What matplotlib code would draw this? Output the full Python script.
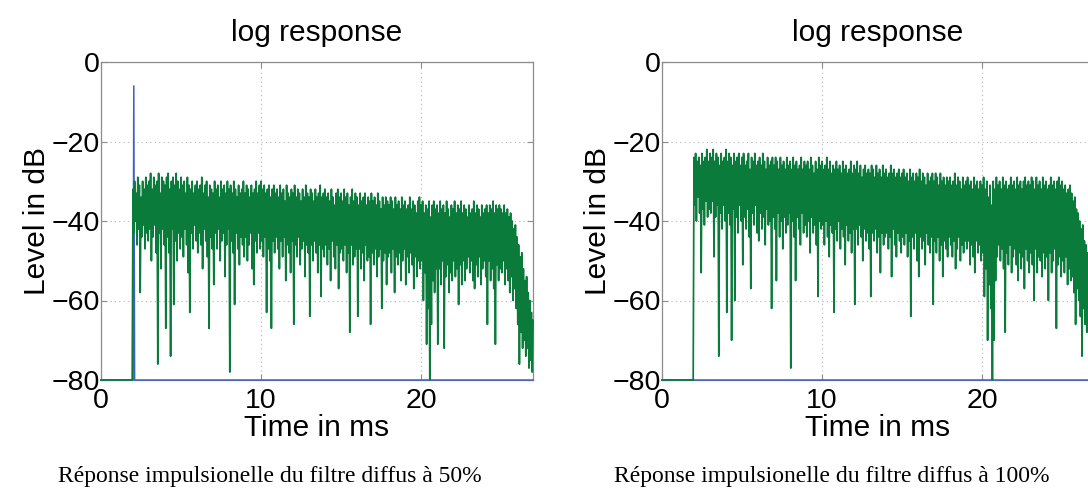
import numpy as np
import matplotlib
matplotlib.use("Agg")
import matplotlib.pyplot as plt

# The reverb tail is dense, so it is read off the picture as an upper and a
# lower level for every 0.1 ms step; the trace runs hi, lo, hi, lo ...
# every 0.05 ms, starting at 1.9 ms.
onset_ms = 1.9
step_ms = 0.05

# direct path (blue): floor at -80 dB with one spike at ~2 ms
direct_t_50 = [0.0, 2.0, 2.05, 2.1, 27.0]
direct_db_50 = [-80, -80, -6, -80, -80]
direct_t_100 = [0.0, 27.0]
direct_db_100 = [-80, -80]

# diffuse part (green), 50 % filter, upper levels at 1.9, 2.0, ... 27.0 ms
diffuse_hi_50 = [-80,
    -32, -30, -33, -29, -31, -34, -30, -32, -29, -31,
    -30, -28, -32, -29, -31, -30, -28, -33, -29, -30,
    -31, -29, -28, -32, -30, -29, -31, -28, -30, -32,
    -29, -31, -30, -33, -29, -31, -32, -30, -33, -31,
    -30, -32, -31, -29, -33, -31, -30, -34, -31, -32,
    -33, -30, -32, -31, -34, -30, -32, -31, -33, -30,
    -32, -31, -33, -30, -32, -34, -31, -33, -32, -30,
    -33, -31, -32, -34, -31, -33, -32, -30, -33, -31,
    -30, -32, -31, -33, -32, -31, -34, -32, -31, -33,
    -32, -34, -31, -33, -32, -35, -31, -33, -34, -32,
    -33, -31, -34, -32, -33, -35, -32, -34, -31, -33,
    -34, -32, -33, -35, -32, -34, -33, -31, -34, -33,
    -32, -34, -33, -35, -32, -34, -36, -33, -32, -34,
    -33, -35, -32, -34, -33, -36, -34, -32, -35, -33,
    -34, -36, -33, -35, -34, -33, -36, -34, -35, -33,
    -35, -34, -36, -33, -35, -37, -34, -36, -34, -35,
    -36, -34, -35, -37, -34, -36, -35, -37, -34, -36,
    -35, -37, -36, -34, -37, -35, -36, -38, -35, -34,
    -36, -35, -38, -36, -37, -35, -39, -36, -35, -37,
    -36, -38, -35, -37, -36, -38, -35, -37, -39, -36,
    -37, -35, -38, -36, -37, -35, -38, -36, -37, -39,
    -36, -38, -37, -35, -38, -36, -37, -39, -36, -38,
    -37, -36, -38, -36, -37, -35, -38, -36, -37, -36,
    -37, -38, -36, -38, -37, -39, -38, -40, -42, -41,
    -44, -46, -49, -48, -52, -55, -54, -58, -60, -63,
    -65]
# 50 % filter, lower levels at 1.95, 2.05, ... 26.95 ms
diffuse_lo_50 = [-80,
    -43, -40, -46, -42, -58, -44, -41, -47, -43, -45,
    -42, -50, -44, -41, -48, -76, -43, -52, -42, -46,
    -67, -44, -48, -74, -42, -61, -45, -50, -43, -47,
    -44, -49, -42, -46, -53, -63, -43, -47, -41, -45,
    -48, -43, -46, -52, -42, -45, -49, -67, -44, -47,
    -56, -43, -47, -42, -50, -45, -43, -54, -46, -42,
    -78, -45, -48, -61, -43, -47, -51, -44, -46, -49,
    -44, -50, -46, -43, -52, -56, -45, -48, -43, -47,
    -45, -49, -44, -63, -47, -50, -67, -45, -48, -44,
    -47, -52, -45, -49, -44, -55, -46, -48, -53, -45,
    -66, -46, -49, -44, -51, -47, -45, -54, -46, -48,
    -64, -46, -50, -45, -48, -53, -46, -59, -47, -49,
    -46, -51, -47, -55, -45, -49, -52, -46, -57, -48,
    -47, -50, -46, -53, -48, -68, -46, -51, -49, -47,
    -64, -47, -52, -48, -55, -46, -50, -49, -66, -48,
    -51, -47, -54, -49, -47, -62, -50, -48, -56, -49,
    -48, -53, -47, -58, -49, -51, -48, -55, -50, -47,
    -56, -49, -53, -48, -51, -57, -49, -54, -50, -52,
    -50, -60, -53, -71, -62, -80, -66, -55, -58, -52,
    -71, -52, -56, -50, -72, -54, -51, -58, -53, -55,
    -50, -54, -52, -61, -51, -56, -50, -55, -52, -49,
    -53, -50, -55, -57, -51, -54, -49, -56, -52, -50,
    -54, -66, -50, -55, -52, -57, -71, -51, -55, -52,
    -53, -50, -56, -52, -55, -58, -54, -60, -57, -62,
    -66, -76, -68, -72, -70, -74, -72, -77, -75, -78]

# diffuse part (green), 100 % filter, upper levels at 1.9, 2.0, ... 27.0 ms
diffuse_hi_100 = [-80,
    -24, -23, -25, -24, -26, -23, -25, -24, -22, -25,
    -23, -24, -22, -25, -23, -24, -26, -23, -25, -24,
    -22, -25, -23, -24, -26, -23, -25, -24, -23, -26,
    -24, -23, -26, -25, -23, -27, -24, -25, -23, -26,
    -25, -24, -26, -23, -25, -27, -24, -26, -25, -24,
    -26, -24, -25, -27, -24, -26, -25, -27, -24, -26,
    -25, -27, -24, -26, -25, -27, -26, -24, -27, -25,
    -26, -25, -27, -24, -26, -28, -25, -27, -24, -26,
    -25, -27, -26, -24, -27, -25, -28, -26, -27, -25,
    -27, -26, -28, -25, -27, -26, -28, -27, -25, -28,
    -26, -27, -25, -28, -26, -29, -27, -26, -28, -27,
    -28, -26, -27, -29, -26, -28, -27, -29, -26, -28,
    -27, -29, -28, -26, -28, -27, -29, -28, -27, -29,
    -28, -27, -29, -28, -30, -27, -29, -28, -30, -28,
    -29, -27, -30, -28, -29, -31, -28, -30, -29, -28,
    -30, -28, -29, -31, -28, -30, -29, -31, -29, -30,
    -29, -31, -30, -28, -31, -29, -30, -32, -29, -31,
    -30, -29, -31, -30, -32, -29, -31, -30, -32, -30,
    -31, -29, -32, -30, -34, -31, -36, -30, -32, -29,
    -31, -30, -32, -29, -31, -30, -32, -31, -29, -31,
    -30, -32, -29, -31, -30, -32, -30, -29, -31, -30,
    -31, -29, -30, -32, -29, -31, -30, -32, -29, -31,
    -30, -32, -31, -29, -31, -30, -32, -30, -29, -31,
    -30, -32, -31, -33, -32, -31, -33, -35, -34, -37,
    -38, -40, -42, -41, -45, -46, -48, -50, -52, -54,
    -55]
# 100 % filter, lower levels at 1.95, 2.05, ... 26.95 ms
diffuse_lo_100 = [-80,
    -36, -40, -34, -38, -53, -37, -41, -35, -39, -37,
    -38, -35, -49, -39, -36, -74, -38, -42, -36, -40,
    -63, -38, -41, -70, -37, -60, -39, -43, -36, -40,
    -51, -39, -42, -37, -44, -57, -38, -41, -36, -43,
    -45, -38, -42, -39, -46, -37, -41, -40, -62, -39,
    -42, -55, -38, -44, -40, -47, -39, -43, -41, -38,
    -77, -40, -44, -55, -39, -42, -46, -38, -43, -41,
    -44, -40, -48, -39, -43, -41, -46, -59, -40, -42,
    -41, -46, -40, -44, -49, -41, -43, -63, -42, -45,
    -40, -47, -42, -44, -51, -41, -45, -43, -48, -42,
    -61, -42, -46, -41, -44, -50, -42, -45, -43, -47,
    -59, -43, -45, -42, -48, -44, -53, -43, -46, -44,
    -43, -47, -44, -54, -42, -46, -49, -43, -45, -48,
    -44, -46, -43, -49, -45, -64, -44, -47, -43, -50,
    -54, -44, -47, -45, -51, -43, -46, -48, -44, -61,
    -45, -48, -44, -50, -46, -54, -45, -47, -49, -44,
    -46, -49, -45, -52, -47, -44, -50, -46, -48, -45,
    -47, -45, -51, -46, -49, -53, -45, -48, -46, -50,
    -48, -59, -52, -70, -56, -62, -80, -70, -55, -49,
    -46, -50, -47, -52, -68, -48, -51, -46, -53, -49,
    -47, -51, -55, -48, -52, -49, -57, -47, -50, -53,
    -48, -51, -60, -47, -53, -49, -50, -54, -48, -52,
    -49, -60, -48, -53, -50, -47, -67, -51, -49, -54,
    -50, -53, -49, -56, -52, -55, -54, -58, -66, -57,
    -60, -64, -74, -62, -66, -68, -63, -70, -66, -72]

titles = ["log response", "log response"]
captions = ["Réponse impulsionelle du filtre diffus à 50%",
            "Réponse impulsionelle du filtre diffus à 100%"]
xticks = [0, 10, 20]
yticks = [0, -20, -40, -60, -80]

blue = "#3f5fc8"
green = "#0a7b3b"
spine_grey = "#8c8c8c"

plt.rcParams["font.family"] = ["Liberation Sans", "DejaVu Sans"]
plt.rcParams["path.simplify"] = False  # keep every sample of the dense trace

fig = plt.figure(figsize=(10.88, 4.88), dpi=100)

W, H = 1088.0, 488.0
ax_w = 432 / W
ax_h = 318 / H
ax_bottom = 1 - 380 / H
panels = [
    (101 / W, direct_t_50, direct_db_50, diffuse_hi_50, diffuse_lo_50, 270 / W),
    (662 / W, direct_t_100, direct_db_100, diffuse_hi_100, diffuse_lo_100, 832 / W),
]

for i, (left, dt, ddb, hi, lo, cap_x) in enumerate(panels):
    ax = fig.add_axes([left, ax_bottom, ax_w, ax_h])
    tail = np.empty(len(hi) + len(lo))
    tail[0::2] = hi
    tail[1::2] = lo
    g_t = np.concatenate([[0.0], onset_ms + step_ms * np.arange(len(tail))])
    g_db = np.concatenate([[-80.0], tail])
    ax.plot(dt, ddb, color=blue, lw=1.1, clip_on=False, zorder=3)
    ax.plot(g_t, g_db, color=green, lw=1.25, clip_on=False, zorder=4)

    ax.set_xlim(0, 27)
    ax.set_ylim(-80, 0)
    ax.set_xticks(xticks)
    ax.set_yticks(yticks)
    ax.grid(True, linestyle=(0, (1, 3)), color="#b5b5b5", lw=0.8)
    for s in ax.spines.values():
        s.set_color(spine_grey)
        s.set_linewidth(0.9)
    ax.tick_params(direction="in", length=4, color=spine_grey,
                   top=True, right=True, labelsize=20.5)
    ax.tick_params(axis="x", pad=6)
    ax.tick_params(axis="y", pad=1)
    ax.set_title(titles[i], fontsize=21.5, pad=15)
    ax.set_xlabel("Time in ms", fontsize=21.5, labelpad=0)
    ax.set_ylabel("Level in dB", fontsize=21.5, labelpad=0)

    fig.text(cap_x, 1 - 482 / H, captions[i], ha="center", va="baseline",
             fontsize=17, family=["Liberation Serif", "DejaVu Serif"])

fig.savefig("out.png", dpi=100)
